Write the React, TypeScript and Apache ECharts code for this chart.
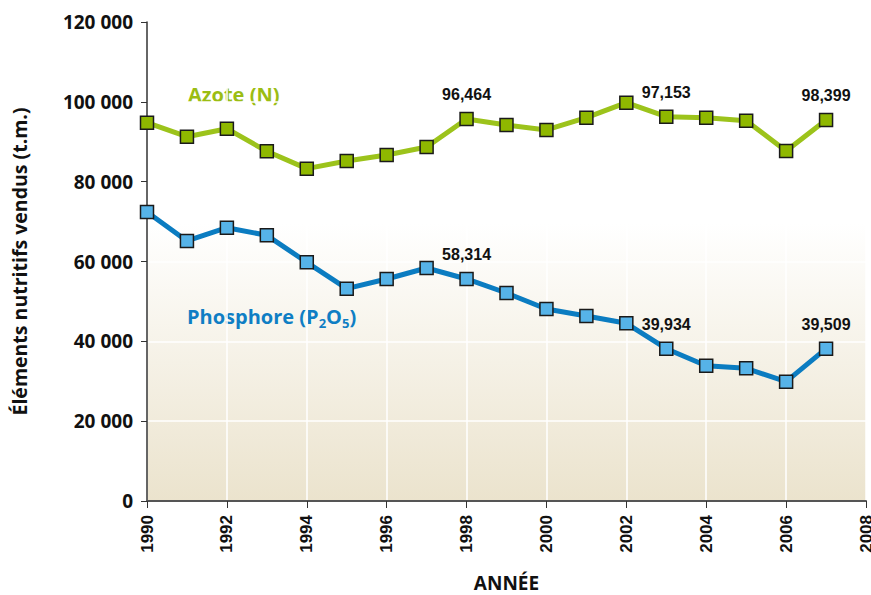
import React, { useEffect, useRef } from "react";
import * as echarts from "echarts";

const years = [1990, 1991, 1992, 1993, 1994, 1995, 1996, 1997, 1998, 1999, 2000, 2001, 2002, 2003, 2004, 2005, 2006, 2007];
const azote = [94770, 91270, 93270, 87600, 83260, 85180, 86680, 88690, 95700, 94200, 92950, 96030, 99790, 96280, 96030, 95280, 87680, 95450];
const phosphore = [72400, 65140, 68470, 66560, 59800, 53190, 55620, 58370, 55620, 52110, 48100, 46350, 44520, 38160, 33900, 33240, 29900, 38160];
const azoteLabels: Record<number, string> = { 1998: "96,464", 2003: "97,153", 2007: "98,399" };
const phosphoreLabels: Record<number, string> = { 1998: "58,314", 2003: "39,934", 2007: "39,509" };
const yTicks = [0, 20000, 40000, 60000, 80000, 100000, 120000];

const GREEN_LINE = "#9cc31b";
const GREEN_FILL = "#8fb800";
const BLUE_LINE = "#0b7cc1";
const BLUE_FILL = "#56b3e8";

function buildData(vals: number[], labels: Record<number, string>) {
  return years.map((y, i) => {
    const item: any = { value: [y, vals[i]] };
    if (labels[y]) {
      item.label = {
        show: true,
        position: "top",
        distance: 9,
        formatter: labels[y],
        fontFamily: "Liberation Sans, Arial, sans-serif",
        fontWeight: "bold",
        fontSize: 16,
        color: "#111",
      };
    }
    return item;
  });
}

export default function App() {
  const ref = useRef<HTMLDivElement>(null);
  useEffect(() => {
    if (!ref.current) return;
    const chart = echarts.init(ref.current, null, { renderer: "svg" });
    chart.setOption({
      animation: false,
      grid: {
        left: 147,
        right: 5,
        top: 22,
        bottom: 94,
        outerBoundsMode: "none",
        containLabel: false,
        show: true,
        borderWidth: 0,
        backgroundColor: {
          type: "linear",
          x: 0,
          y: 0,
          x2: 0,
          y2: 1,
          colorStops: [
            { offset: 0, color: "#ffffff" },
            { offset: 0.42, color: "#ffffff" },
            { offset: 1, color: "#ebe3cd" },
          ],
        },
      },
      xAxis: {
        type: "value",
        min: 1990,
        max: 2008,
        interval: 2,
        name: "ANNÉE",
        nameLocation: "middle",
        nameGap: 72,
        nameTextStyle: { fontFamily: "Open Sans, sans-serif", fontWeight: "bold", fontSize: 19, color: "#111" },
        axisLine: { show: true, onZero: false, lineStyle: { color: "#555", width: 2 } },
        axisTick: { show: true, length: 7, lineStyle: { color: "#333", width: 1 } },
        axisLabel: {
          rotate: 90,
          margin: 14,
          fontFamily: "Liberation Sans, Arial, sans-serif",
          fontWeight: "bold",
          fontSize: 17,
          color: "#111",
          formatter: (v: number) => String(v),
        },
        splitLine: { show: true, lineStyle: { color: "#ffffff", width: 1.5 } },
      },
      yAxis: {
        type: "value",
        min: 0,
        max: 120000,
        interval: 20000,
        name: "Éléments nutritifs vendus (t.m.)",
        nameLocation: "middle",
        nameGap: 118,
        nameRotate: 90,
        nameTextStyle: { fontFamily: "Open Sans, sans-serif", fontWeight: "bold", fontSize: 19.5, color: "#111" },
        axisLine: { show: true, lineStyle: { color: "#333", width: 1.5 } },
        axisTick: { show: true, length: 6, lineStyle: { color: "#333", width: 1 } },
        axisLabel: {
          margin: 14,
          fontFamily: "Open Sans, sans-serif",
          fontWeight: "bold",
          fontSize: 19,
          color: "#111",
          formatter: (v: number) => (yTicks.includes(v) ? String(v).replace(/\B(?=(\d{3})+(?!\d))/g, " ") : ""),
        },
        splitLine: { show: true, lineStyle: { color: "#ffffff", width: 1.5 } },
      },
      graphic: [
        {
          type: "text",
          left: 188,
          top: 84,
          style: {
            text: "Azote (N)",
            fill: "#9bbd14",
            font: "bold 20px 'Open Sans', sans-serif",
          },
        },
        {
          type: "text",
          left: 187,
          top: 306,
          style: {
            text: "{a|Phosphore (P}{s|2}{a|O}{s|5}{a|)}",
            rich: {
              a: { fill: "#0f7ec4", font: "bold 20px 'Open Sans', sans-serif", verticalAlign: "bottom" },
              s: { fill: "#0f7ec4", font: "bold 13px 'Open Sans', sans-serif", verticalAlign: "bottom", padding: [0, 0, -3, 0] },
            },
          },
        },
      ],
      series: [
        {
          name: "Azote (N)",
          type: "line",
          data: buildData(azote, azoteLabels),
          lineStyle: { color: GREEN_LINE, width: 5 },
          symbol: "rect",
          symbolSize: 13,
          showAllSymbol: true,
          itemStyle: { color: GREEN_FILL, borderColor: "#1a1a1a", borderWidth: 1.5 },
          z: 3,
        },
        {
          name: "Phosphore (P2O5)",
          type: "line",
          data: buildData(phosphore, phosphoreLabels),
          lineStyle: { color: BLUE_LINE, width: 5 },
          symbol: "rect",
          symbolSize: 13,
          showAllSymbol: true,
          itemStyle: { color: BLUE_FILL, borderColor: "#1a1a1a", borderWidth: 1.5 },
          z: 3,
        },
      ],
    });
    return () => chart.dispose();
  }, []);
  return <div ref={ref} style={{ width: 871, height: 595, position: "absolute", left: 0, top: 0 }} />;
}
